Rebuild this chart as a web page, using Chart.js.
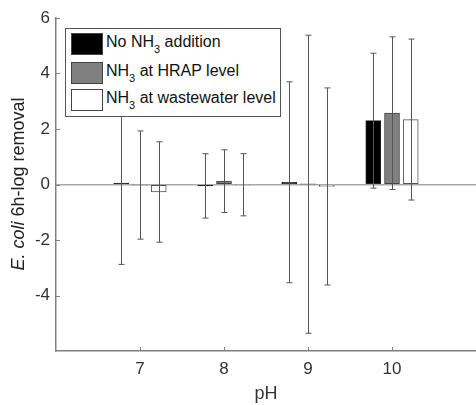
<!DOCTYPE html>
<html>
<head>
<meta charset="utf-8">
<script src="https://cdn.jsdelivr.net/npm/chart.js@4.4.0/dist/chart.umd.min.js"></script>
<style>
  html, body { margin: 0; padding: 0; background: #fff; }
  #wrap { position: relative; width: 476px; height: 405px; }
  #legend {
    position: absolute; left: 65px; top: 28px; width: 216px; height: 89px;
    border: 1px solid #555; background: #fff; box-sizing: border-box;
    font-family: "Liberation Sans", Arial, sans-serif; font-size: 16px; color: #111;
  }
  .row { position: absolute; left: 5px; height: 22px; }
  .sw { position: absolute; left: 0; top: 0; width: 30px; height: 20px; border: 1px solid #444; }
  .lbl { position: absolute; left: 35px; top: -1px; white-space: nowrap; line-height: 20px; }
  .lbl sub { font-size: 11px; vertical-align: -6px; line-height: 0; }
</style>
</head>
<body>
<div id="wrap">
  <canvas id="chart" width="476" height="405"></canvas>
  <div id="legend">
    <div class="row" style="top:4px"><div class="sw" style="background:#000"></div><div class="lbl">No NH<sub>3</sub> addition</div></div>
    <div class="row" style="top:33px"><div class="sw" style="background:#808080"></div><div class="lbl">NH<sub>3</sub> at HRAP level</div></div>
    <div class="row" style="top:60px"><div class="sw" style="background:#fff"></div><div class="lbl">NH<sub>3</sub> at wastewater level</div></div>
  </div>
</div>
<script>
// pH groups and 6h-log removal (mean and error)
const categories = [7, 8, 9, 10];
const noNH3 = [0.05, -0.05, 0.08, 2.30];
const noNH3Err = [2.93, 1.16, 3.62, 2.43];
const hrap = [-0.02, 0.12, 0.01, 2.57];
const hrapErr = [1.95, 1.13, 5.37, 2.75];
const wastewater = [-0.27, -0.01, -0.07, 2.34];
const wastewaterErr = [1.81, 1.12, 3.55, 2.90];
const yTicks = [6, 4, 2, 0, -2, -4];

const offset = 0.223;
const FONT = '"Liberation Sans", Arial, sans-serif';

function points(vals, shift) {
    return categories.map((c, i) => ({ x: c + shift, y: vals[i] }));
}

// error bars drawn from each bar element through the y scale
const errorBars = {
    id: 'errorBars',
    afterDatasetsDraw(chart) {
        const ctx = chart.ctx;
        const y = chart.scales.y;
        chart.data.datasets.forEach((ds, di) => {
            const meta = chart.getDatasetMeta(di);
            meta.data.forEach((el, i) => {
                const v = ds.data[i].y, e = ds.errors[i];
                const top = y.getPixelForValue(v + e);
                const bot = y.getPixelForValue(v - e);
                const px = Math.round(el.x) + 0.5;
                ctx.save();
                ctx.strokeStyle = '#555';
                ctx.lineWidth = 1;
                ctx.beginPath();
                ctx.moveTo(px, top); ctx.lineTo(px, bot);
                ctx.moveTo(px - 3, top); ctx.lineTo(px + 3, top);
                ctx.moveTo(px - 3, bot); ctx.lineTo(px + 3, bot);
                ctx.stroke();
                ctx.restore();
            });
        });
    }
};

// inward tick marks and y title with italic species name
const axisExtras = {
    id: 'axisExtras',
    afterDraw(chart) {
        const ctx = chart.ctx;
        const { x, y } = chart.scales;
        const area = chart.chartArea;
        ctx.save();
        ctx.strokeStyle = '#808080';
        ctx.lineWidth = 1;
        ctx.beginPath();
        categories.forEach(c => {
            const px = Math.round(x.getPixelForValue(c)) + 0.5;
            ctx.moveTo(px, area.bottom); ctx.lineTo(px, area.bottom - 4);
        });
        yTicks.forEach(t => {
            const py = Math.round(y.getPixelForValue(t)) + 0.5;
            ctx.moveTo(area.left, py); ctx.lineTo(area.left + 4, py);
        });
        ctx.stroke();

        ctx.translate(19, 184);
        ctx.rotate(-Math.PI / 2);
        ctx.fillStyle = '#222';
        ctx.textBaseline = 'middle';
        const part1 = 'E. coli', part2 = ' 6h-log removal';
        ctx.font = 'italic 18px ' + FONT;
        const w1 = ctx.measureText(part1).width;
        ctx.font = '18px ' + FONT;
        const w2 = ctx.measureText(part2).width;
        let start = -(w1 + w2) / 2;
        ctx.font = 'italic 18px ' + FONT;
        ctx.fillText(part1, start, 0);
        ctx.font = '18px ' + FONT;
        ctx.fillText(part2, start + w1, 0);
        ctx.restore();
    }
};

function initChart() {
    const ctx = document.getElementById('chart').getContext('2d');
    new Chart(ctx, {
        type: 'bar',
        data: {
            datasets: [
                { label: 'No NH3 addition', data: points(noNH3, -offset), errors: noNH3Err,
                  backgroundColor: '#000', borderColor: '#222' },
                { label: 'NH3 at HRAP level', data: points(hrap, 0), errors: hrapErr,
                  backgroundColor: '#808080', borderColor: '#444' },
                { label: 'NH3 at wastewater level', data: points(wastewater, offset), errors: wastewaterErr,
                  backgroundColor: '#fff', borderColor: '#555' }
            ]
        },
        options: {
            responsive: false,
            animation: false,
            grouped: false,
            barThickness: 15,
            borderWidth: 1,
            borderSkipped: false,
            layout: { padding: { top: 18, left: 0, right: 0, bottom: 0 } },
            plugins: { legend: { display: false }, tooltip: { enabled: false } },
            scales: {
                x: {
                    type: 'linear',
                    min: 6, max: 11,
                    offset: false,
                    grid: { display: false, offset: false },
                    border: { display: true, color: '#808080', width: 1.5 },
                    ticks: {
                        stepSize: 1,
                        padding: 0,
                        maxRotation: 0,
                        color: '#333',
                        font: { family: FONT, size: 17 },
                        callback: v => categories.includes(v) ? String(v) : ''
                    },
                    title: {
                        display: true, text: 'pH', color: '#333',
                        font: { family: FONT, size: 18 },
                        padding: { top: 0, bottom: 0 }
                    },
                    afterFit: s => { s.height = 54; s.paddingLeft = 0; s.paddingRight = 0; }
                },
                y: {
                    min: -6, max: 6,
                    grid: {
                        drawTicks: false,
                        color: c => c.tick && c.tick.value === 0 ? '#a8a8a8' : 'rgba(0,0,0,0)',
                        lineWidth: 1.5
                    },
                    border: { display: true, color: '#808080', width: 1.5 },
                    ticks: {
                        stepSize: 2,
                        padding: 6,
                        color: '#333',
                        font: { family: FONT, size: 17 },
                        callback: v => yTicks.includes(v) ? String(v) : ''
                    },
                    afterFit: s => { s.width = 56; s.paddingTop = 0; s.paddingBottom = 0; }
                }
            }
        },
        plugins: [errorBars, axisExtras]
    });
}

document.addEventListener('DOMContentLoaded', initChart);
</script>
</body>
</html>
